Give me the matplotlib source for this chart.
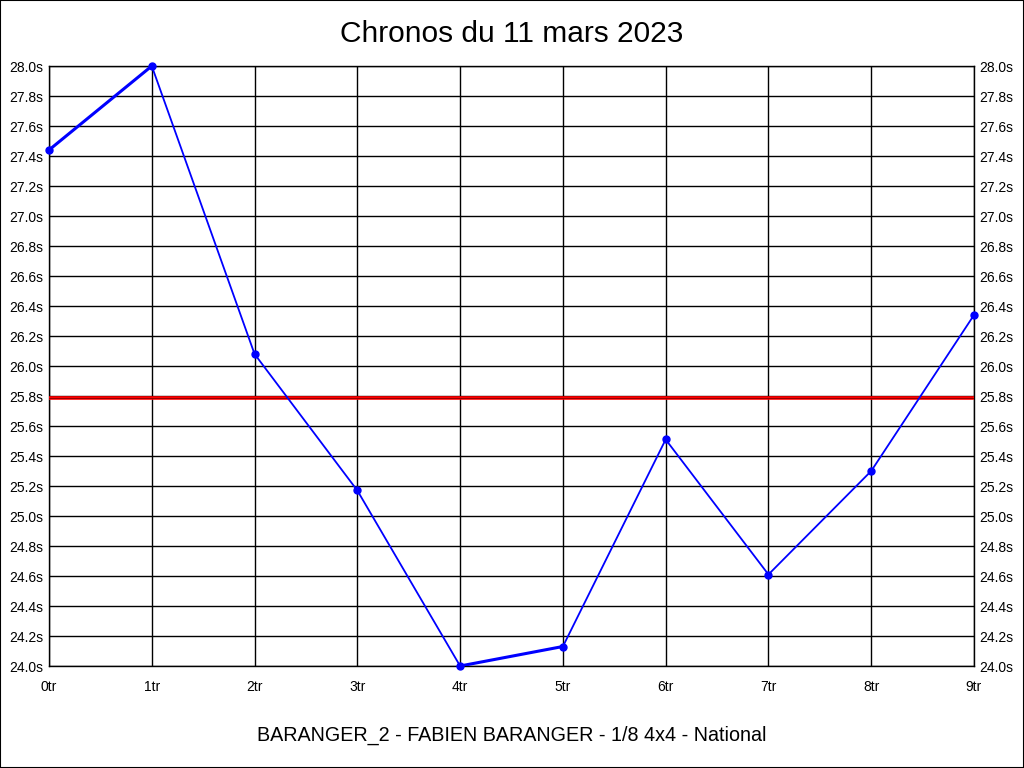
import matplotlib
matplotlib.use('Agg')
import matplotlib.pyplot as plt
from matplotlib.patches import Rectangle

# données
tours = ['0tr', '1tr', '2tr', '3tr', '4tr', '5tr', '6tr', '7tr', '8tr', '9tr']
chronos = [27.44, 28.00, 26.08, 25.17, 24.00, 24.13, 25.51, 24.61, 25.30, 26.34]
moyenne = 25.79
yticks = [24.0 + 0.2 * i for i in range(21)]
titre = "Chronos du 11 mars 2023"
pilote = "BARANGER_2 - FABIEN BARANGER - 1/8 4x4 - National"
# segments tracés en plus épais
segments_epais = [(0, 1), (4, 5)]

plt.rcParams['font.family'] = ['Liberation Sans', 'DejaVu Sans']

fig = plt.figure(figsize=(10.24, 7.68), dpi=100)
fig.patches.append(Rectangle((0, 0), 1, 1, transform=fig.transFigure,
                             fill=False, edgecolor='black', linewidth=1.5))

ax = fig.add_axes([49 / 1024, 102 / 768, 925 / 1024, 600 / 768])
x = list(range(len(tours)))

ax.set_xlim(0, len(tours) - 1)
ax.set_ylim(24.0, 28.0)
ax.set_xticks(x)
ax.set_xticklabels(tours)
ax.set_yticks(yticks)
ax.set_yticklabels([f"{v:.1f}s" for v in yticks])
ax.tick_params(axis='both', length=0, labelsize=10, colors='black')
ax.tick_params(axis='x', pad=10)
ax.tick_params(axis='y', pad=4, right=True, labelright=True)
ax.grid(True, color='black', linewidth=1)
ax.set_axisbelow(True)
for s in ax.spines.values():
    s.set_color('black')
    s.set_linewidth(1)

# ligne de moyenne
ax.axhline(moyenne, color='red', linewidth=2.6, zorder=3)
ax.axhline(moyenne, color='#800000', linewidth=0.6, zorder=3)

# courbe
for i in range(len(x) - 1):
    lw = 2.2 if (i, i + 1) in segments_epais else 1.3
    ax.plot(x[i:i + 2], chronos[i:i + 2], color='blue', linewidth=lw, zorder=4,
            solid_capstyle='round')
ax.plot(x, chronos, linestyle='none', marker='o', markersize=5,
        color='blue', zorder=5, clip_on=False)

fig.text(0.5, 1 - 34 / 768, titre, ha='center', va='center', fontsize=21.5)
fig.text(0.5, 1 - 735 / 768, pilote, ha='center', va='center', fontsize=14.2)

fig.savefig('out.png', dpi=100)
